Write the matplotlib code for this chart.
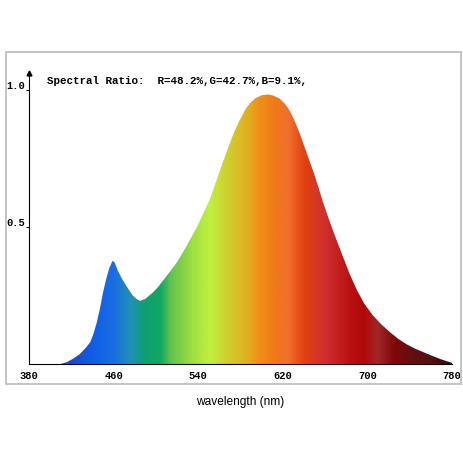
import numpy as np
import matplotlib.pyplot as plt
from matplotlib.colors import LinearSegmentedColormap
from matplotlib.patches import Rectangle

# spectrum (wavelength nm, relative intensity)
WAVELENGTH = [380, 410, 416, 422, 428, 434, 438, 441, 444, 447, 450, 453, 456,
              459, 461, 464, 468, 472, 478, 482, 485, 490, 497, 502, 507, 513,
              518, 523, 529, 534, 539, 545, 551, 556, 561, 568, 574, 580, 585,
              589, 594, 600, 606, 611, 617, 622, 627, 632, 636, 642, 649, 654,
              658, 662, 668, 674, 679, 683, 690, 697, 705, 713, 721, 729, 737,
              745, 753, 761, 769, 775, 780]
INTENSITY = [0.0, 0.0, 0.007, 0.02, 0.036, 0.06, 0.08, 0.11, 0.15, 0.20, 0.26,
             0.31, 0.35, 0.376, 0.37, 0.34, 0.31, 0.285, 0.25, 0.236, 0.23,
             0.237, 0.26, 0.28, 0.305, 0.335, 0.36, 0.39, 0.43, 0.465, 0.50,
             0.55, 0.60, 0.655, 0.71, 0.785, 0.845, 0.894, 0.93, 0.95, 0.968,
             0.979, 0.982, 0.978, 0.967, 0.948, 0.92, 0.878, 0.84, 0.775,
             0.70, 0.64, 0.59, 0.545, 0.48, 0.42, 0.37, 0.33, 0.27, 0.22,
             0.178, 0.145, 0.117, 0.092, 0.072, 0.056, 0.043, 0.03, 0.018,
             0.01, 0.004]

X_TICKS = [380, 460, 540, 620, 700, 780]
Y_TICKS = [0.5, 1.0]
Y_TICK_LABELS = ["0.5", "1.0"]
RATIO_TEXT = "Spectral Ratio:  R=48.2%,G=42.7%,B=9.1%,"
X_LABEL = "wavelength (nm)"

# colour stops along the spectrum
COLOR_STOPS = [(380, "#1a2fb0"), (420, "#1a48d0"), (442, "#1060e8"),
               (460, "#1a6ee0"), (475, "#2090b8"), (490, "#10a070"),
               (504, "#10a860"), (513, "#60c050"), (535, "#a0e040"),
               (551, "#c0f040"), (567, "#d0d030"), (586, "#e0b020"),
               (598, "#f09018"), (613, "#f07818"), (625, "#f07030"),
               (641, "#e04010"), (660, "#d03030"), (685, "#b81010"),
               (698, "#b00808"), (710, "#a02828"), (726, "#800808"),
               (745, "#601010"), (764, "#501010"), (780, "#300505")]

MONO = "Liberation Mono"

fig = plt.figure(figsize=(4.64, 4.64), dpi=100)
ax = fig.add_axes([0.0625, 0.2134, 0.9116, 0.627])

# grey frame around the chart
fig.patches.append(Rectangle((6 / 464, 1 - 385 / 464), 455 / 464, 332 / 464,
                             transform=fig.transFigure, fill=False,
                             edgecolor="#c4c4c4", linewidth=1.4, zorder=0))

cmap = LinearSegmentedColormap.from_list(
    "spec", [((w - 380) / 400, c) for w, c in COLOR_STOPS])

poly = ax.fill_between(WAVELENGTH, INTENSITY, 0, facecolor="none",
                       edgecolor="none", linewidth=0)
grad = np.linspace(380, 780, 800).reshape(1, -1)
img = ax.imshow(grad, extent=[380, 780, 0, 1.06], aspect="auto",
                cmap=cmap, vmin=380, vmax=780, origin="lower", zorder=1)
img.set_clip_path(poly.get_paths()[0], transform=ax.transData)

ax.set_xlim(380, 780)
ax.set_ylim(0, 1.06)

ax.spines["top"].set_visible(False)
ax.spines["right"].set_visible(False)
ax.spines["left"].set_linewidth(0.8)
ax.spines["bottom"].set_linewidth(0.8)
ax.plot([0], [1], marker="^", markersize=3.5, color="black",
        transform=ax.transAxes, clip_on=False)

ax.set_xticks(X_TICKS)
ax.set_xticklabels([str(t) for t in X_TICKS], family=MONO,
                   fontweight="bold", fontsize=7.5)
ax.tick_params(axis="x", length=0, pad=4)

ax.set_yticks(Y_TICKS)
ax.set_yticklabels(Y_TICK_LABELS, family=MONO, fontweight="bold",
                   fontsize=7.5)
ax.tick_params(axis="y", length=2.5, width=0.8, pad=0.5)
for lab in ax.get_yticklabels():
    lab.set_verticalalignment("bottom")

ax.text(0.042, 0.975, RATIO_TEXT, transform=ax.transAxes, family=MONO,
        fontweight="bold", fontsize=7.8, va="center", ha="left")

fig.text(240 / 464, 1 - 402 / 464, X_LABEL, family="Liberation Sans",
         fontsize=8.6, ha="center", va="center")

fig.savefig("out.png", dpi=100)
